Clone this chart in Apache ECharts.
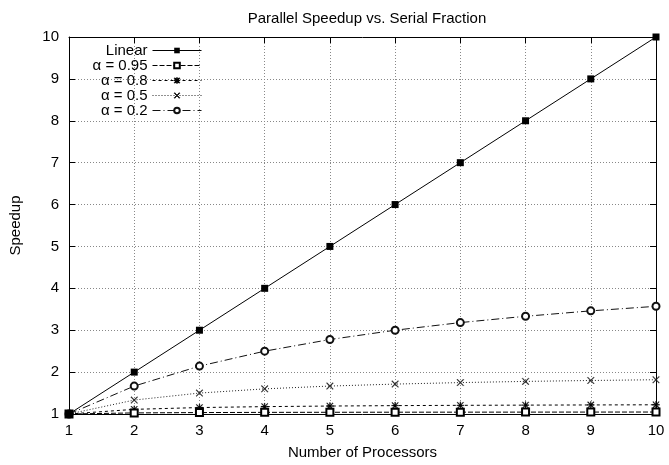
<!DOCTYPE html>
<html>
<head>
<meta charset="utf-8">
<script src="https://cdn.jsdelivr.net/npm/echarts@6/dist/echarts.min.js"></script>
<style>
  html, body { margin: 0; padding: 0; background: #fff; }
  #chart { width: 669px; height: 465px; }
</style>
</head>
<body>
<div id="chart"></div>
<script>
// 处理器数量
const processors = [1, 2, 3, 4, 5, 6, 7, 8, 9, 10];
// 各串行比例下的加速比
const linearSpeedup = [1, 2, 3, 4, 5, 6, 7, 8, 9, 10];
const alpha095 = [1, 1.026, 1.034, 1.039, 1.041, 1.043, 1.044, 1.045, 1.046, 1.047];
const alpha08 = [1, 1.111, 1.154, 1.176, 1.19, 1.2, 1.207, 1.212, 1.216, 1.22];
const alpha05 = [1, 1.333, 1.5, 1.6, 1.667, 1.714, 1.75, 1.778, 1.8, 1.818];
const alpha02 = [1, 1.667, 2.143, 2.5, 2.778, 3.0, 3.182, 3.333, 3.462, 3.571];
const seriesNames = ['Linear', 'α = 0.95', 'α = 0.8', 'α = 0.5', 'α = 0.2'];

const FONT = 'Liberation Sans';
const starPath = 'path://M4.4,0H5.6V10H4.4Z M0,4.4H10V5.6H0Z M1,0.2L9.8,9L9,9.8L0.2,1Z M9,0.2L9.8,1L1,9.8L0.2,9Z';
const crossPath = 'path://M1,0.2L9.8,9L9,9.8L0.2,1Z M9,0.2L9.8,1L1,9.8L0.2,9Z';

function pairs(ys) {
  return processors.map((x, i) => [x, ys[i]]);
}

const chart = echarts.init(document.getElementById('chart'), null, { renderer: 'canvas' });

const baseAxis = {
  type: 'value',
  min: 1,
  max: 10,
  interval: 1,
  axisLine: { show: true, lineStyle: { color: '#000', width: 1 } },
  axisTick: { show: true, inside: true, length: 6, lineStyle: { color: '#000' } },
  splitLine: { show: false }
};

const option = {
  animation: false,
  backgroundColor: '#fff',
  title: {
    text: 'Parallel Speedup vs. Serial Fraction',
    left: 362,
    top: 6,
    textAlign: 'center',
    textStyle: { fontFamily: FONT, fontSize: 15, fontWeight: 'normal', color: '#000' }
  },
  legend: {
    orient: 'vertical',
    align: 'right',
    right: 467,
    top: 43,
    itemWidth: 49,
    itemHeight: 7,
    itemGap: 0,
    padding: 0,
    data: seriesNames,
    lineStyle: { width: 1 },
    itemStyle: { borderWidth: 1 },
    textStyle: { fontFamily: FONT, fontSize: 15, color: '#000', lineHeight: 15 }
  },
  grid: { left: 68, right: 13, top: 37, bottom: 46 },
  xAxis: [
    Object.assign({}, baseAxis, {
      position: 'bottom',
      name: 'Number of Processors',
      nameLocation: 'middle',
      nameGap: 31,
      nameTextStyle: { fontFamily: FONT, fontSize: 15, color: '#000' },
      axisLabel: { fontFamily: FONT, fontSize: 15, color: '#000', margin: 9 },
      splitLine: { show: true, lineStyle: { color: '#888', type: [1, 2], width: 1 } }
    }),
    Object.assign({}, baseAxis, { position: 'top', axisLabel: { show: false } })
  ],
  yAxis: [
    Object.assign({}, baseAxis, {
      position: 'left',
      name: 'Speedup',
      nameLocation: 'middle',
      nameGap: 46,
      nameTextStyle: { fontFamily: FONT, fontSize: 15, color: '#000' },
      axisLabel: { fontFamily: FONT, fontSize: 15, color: '#000', margin: 10 },
      splitLine: { show: true, lineStyle: { color: '#888', type: [1, 2], width: 1 } }
    }),
    Object.assign({}, baseAxis, { position: 'right', axisLabel: { show: false } })
  ],
  series: [
    {
      name: seriesNames[0],
      type: 'line',
      data: pairs(linearSpeedup),
      symbol: 'rect',
      symbolSize: 7,
      itemStyle: { color: '#000' },
      lineStyle: { color: '#000', width: 1, type: 'solid' },
      z: 6
    },
    {
      name: seriesNames[1],
      type: 'line',
      data: pairs(alpha095),
      symbol: 'emptyRect',
      symbolSize: 7,
      itemStyle: { color: '#000', borderColor: '#000', borderWidth: 1 },
      lineStyle: { color: '#000', width: 1, type: [5, 2] },
      z: 5
    },
    {
      name: seriesNames[2],
      type: 'line',
      data: pairs(alpha08),
      symbol: starPath,
      symbolSize: 7,
      itemStyle: { color: '#000', borderColor: '#000', borderWidth: 0.3 },
      lineStyle: { color: '#000', width: 1, type: [3, 3] },
      z: 4
    },
    {
      name: seriesNames[3],
      type: 'line',
      data: pairs(alpha05),
      symbol: crossPath,
      symbolSize: 7,
      itemStyle: { color: '#222', borderColor: '#222', borderWidth: 0.3 },
      lineStyle: { color: '#222', width: 1, type: [1, 2] },
      z: 3
    },
    {
      name: seriesNames[4],
      type: 'line',
      data: pairs(alpha02),
      symbol: 'emptyCircle',
      symbolSize: 7,
      itemStyle: { color: '#111', borderColor: '#111', borderWidth: 1 },
      lineStyle: { color: '#111', width: 1, type: [8, 3, 1, 3] },
      z: 2
    }
  ]
};

chart.setOption(option);
</script>
</body>
</html>
